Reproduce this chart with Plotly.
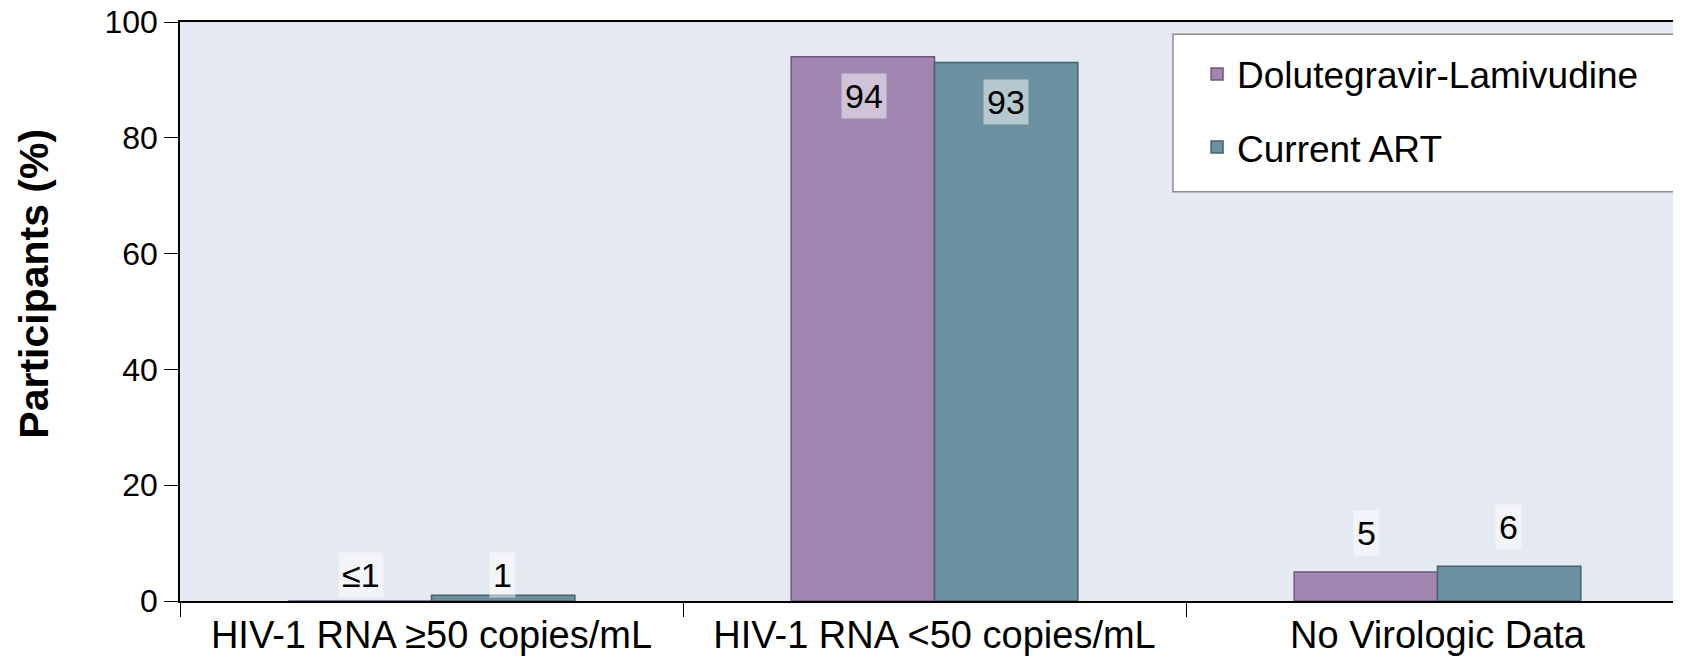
import plotly.graph_objects as go

categories = ["HIV-1 RNA ≥50 copies/mL", "HIV-1 RNA <50 copies/mL", "No Virologic Data"]
dtg_values = [0, 94, 5]
dtg_labels = ["≤1", "94", "5"]
art_values = [1, 93, 6]
art_labels = ["1", "93", "6"]
y_ticks = [0, 20, 40, 60, 80, 100]

FONT = "Liberation Sans, Arial, sans-serif"
PURPLE = "#A086B0"
TEAL = "#6C909F"

fig = go.Figure()
fig.add_trace(go.Bar(
    name="Dolutegravir-Lamivudine", x=categories, y=dtg_values,
    marker=dict(color=PURPLE, line=dict(color="#6E5A7C", width=1.5)),
    legendgroup="a",
))
fig.add_trace(go.Bar(
    name="Current ART", x=categories, y=art_values,
    marker=dict(color=TEAL, line=dict(color="#46626E", width=1.5)),
    legendgroup="b",
))

# value labels with light boxes
annotations = []
bar_shift = 71
for vals, labs, side in ((dtg_values, dtg_labels, -1), (art_values, art_labels, 1)):
    for cat, v, lab in zip(categories, vals, labs):
        inside = v > 50
        annotations.append(dict(
            x=cat, y=v, xref="x", yref="y", text=lab, showarrow=False,
            xshift=side * bar_shift,
            yanchor="top" if inside else "bottom",
            yshift=-16 if inside else (3 if v < 1 else -3 if v <= 1 else 16),
            font=dict(family=FONT, size=34, color="#000000"),
            bgcolor="rgba(255,255,255,0.5)", borderpad=3,
        ))

# y-axis title (placed slightly above the plot's middle, as in the reference)
annotations.append(dict(
    text="<b>Participants (%)</b>", textangle=-90, showarrow=False,
    xref="paper", yref="paper", x=0, y=0.548, xanchor="center", yanchor="middle",
    xshift=-146, font=dict(family=FONT, size=41, color="#000000"),
))

fig.update_layout(
    width=1681, height=657,
    margin=dict(l=172, r=0, t=14, b=64),
    paper_bgcolor="#FFFFFF", plot_bgcolor="#E5E9F1",
    barmode="group", bargap=0.43, bargroupgap=0,
    font=dict(family=FONT, size=34, color="#000000"),
    annotations=annotations,
    shapes=[dict(
        type="rect", xref="paper", yref="paper",
        x0=0.658, x1=0.993, y0=0.707, y1=0.979,
        fillcolor="#FFFFFF", line=dict(color="#8C8C8C", width=1.5), layer="above",
    )],
    showlegend=True,
    legend=dict(
        x=0.674, y=0.963, xanchor="left", yanchor="top",
        bgcolor="rgba(0,0,0,0)", borderwidth=0,
        font=dict(family=FONT, size=37, color="#000000"),
        traceorder="grouped", tracegroupgap=22,
        itemwidth=30,
    ),
    xaxis=dict(
        showgrid=False, showline=True, linecolor="#000000", linewidth=1.5,
        mirror=True, ticks="outside", tickson="boundaries", ticklen=14,
        tickcolor="#000000", automargin=False,
        tickfont=dict(family=FONT, size=38, color="#000000"),
    ),
    yaxis=dict(
        range=[0, 100], tickvals=y_ticks, showgrid=False, zeroline=False,
        showline=True, linecolor="#000000", linewidth=1.5, automargin=False,
        ticks="outside", ticklen=14, tickcolor="#000000",
        ticklabeloverflow="allow",
        tickfont=dict(family=FONT, size=32, color="#000000"),
    ),
)

fig.write_html("out.html")
